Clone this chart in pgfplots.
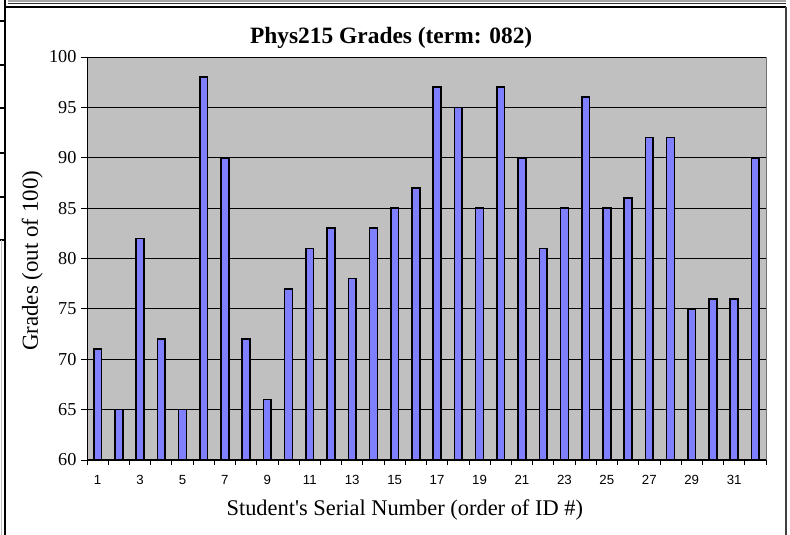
\documentclass[border=0pt]{standalone}
\usepackage{pgfplots}
\pgfplotsset{compat=1.18}
\usepackage{fontspec}
\setmainfont{Liberation Serif}[Ligatures=TeXOff]
\newfontfamily\arialfont{Liberation Sans}
\definecolor{barblue}{HTML}{8080FF}
\definecolor{plotgray}{HTML}{C0C0C0}
\begin{document}
\begin{tikzpicture}
\useasboundingbox (0,0) rectangle (790bp,535bp);
\fill[white] (0,0) rectangle (790bp,535bp);
% outer frame decorations
\draw[gray!70, line width=1.2bp] (8bp,534bp) -- (786bp,534bp);
\draw[black!80, line width=1.2bp] (8bp,531.5bp) -- (786bp,531.5bp);
\draw[black, line width=1.6bp] (5bp,535bp) -- (5bp,0);
\draw[black, line width=1.2bp] (5bp,528bp) -- (786bp,528bp);
\draw[black!75, line width=1.6bp] (786bp,528bp) -- (786bp,0);
\foreach \yy in {514,470,427,382,338,295} {\draw[black, line width=1.2bp] (0,\yy bp) -- (5bp,\yy bp);}
\draw[gray!50, line width=0.8bp] (1bp,295bp) -- (1bp,0);
\begin{axis}[
  at={(87bp,75bp)}, anchor=south west,
  scale only axis, width=679bp, height=403bp,
  ybar, bar width=7.8bp,
  xmin=0.5, xmax=32.5, ymin=60, ymax=100,
  xtick={1,3,...,31},
  minor xtick={0.5,1.5,...,32.5},
  ytick={60,65,...,100},
  axis x line*=bottom, axis y line*=left,
  axis line style={black, line width=1bp},
  axis background/.style={fill=plotgray, draw=gray!90!black, line width=0.8bp},
  ymajorgrids, major grid style={black, line width=0.8bp},
  tick align=outside,
  major tick length=6bp, minor tick length=5bp,
  major x tick style={draw=none},
  minor tick style={black, line width=0.8bp},
  major tick style={black, line width=0.8bp},
  /pgf/number format/assume math mode=true,
  yticklabel style={font=\fontsize{18.3}{20}\selectfont, xshift=-1bp},
  xticklabel style={font=\arialfont\fontsize{13.3}{15}\selectfont, yshift=-5.5bp},
  title={\textbf{Phys215 Grades (term: 082)}},
  title style={font=\fontsize{23.5}{26}\selectfont, at={(axis description cs:0.448,1.0198)}, anchor=base},
  xlabel={Student's Serial Number (order of ID \#)},
  xlabel style={font=\fontsize{22.5}{25}\selectfont, at={(axis description cs:0.468,-0.138)}, anchor=base},
  ylabel={Grades (out of 100)},
  ylabel style={font=\fontsize{23}{25}\selectfont, at={(axis description cs:-0.0722,0.494)}, anchor=base, rotate=0},
  clip=true,
]
\addplot[fill=barblue, draw=black, line width=1.6bp] coordinates {
(1,71) (2,65) (3,82) (4,72) (5,65) (6,98) (7,90) (8,72)
(9,66) (10,77) (11,81) (12,83) (13,78) (14,83) (15,85) (16,87)
(17,97) (18,95) (19,85) (20,97) (21,90) (22,81) (23,85) (24,96)
(25,85) (26,86) (27,92) (28,92) (29,75) (30,76) (31,76) (32,90)
};
\end{axis}
\end{tikzpicture}
\end{document}
